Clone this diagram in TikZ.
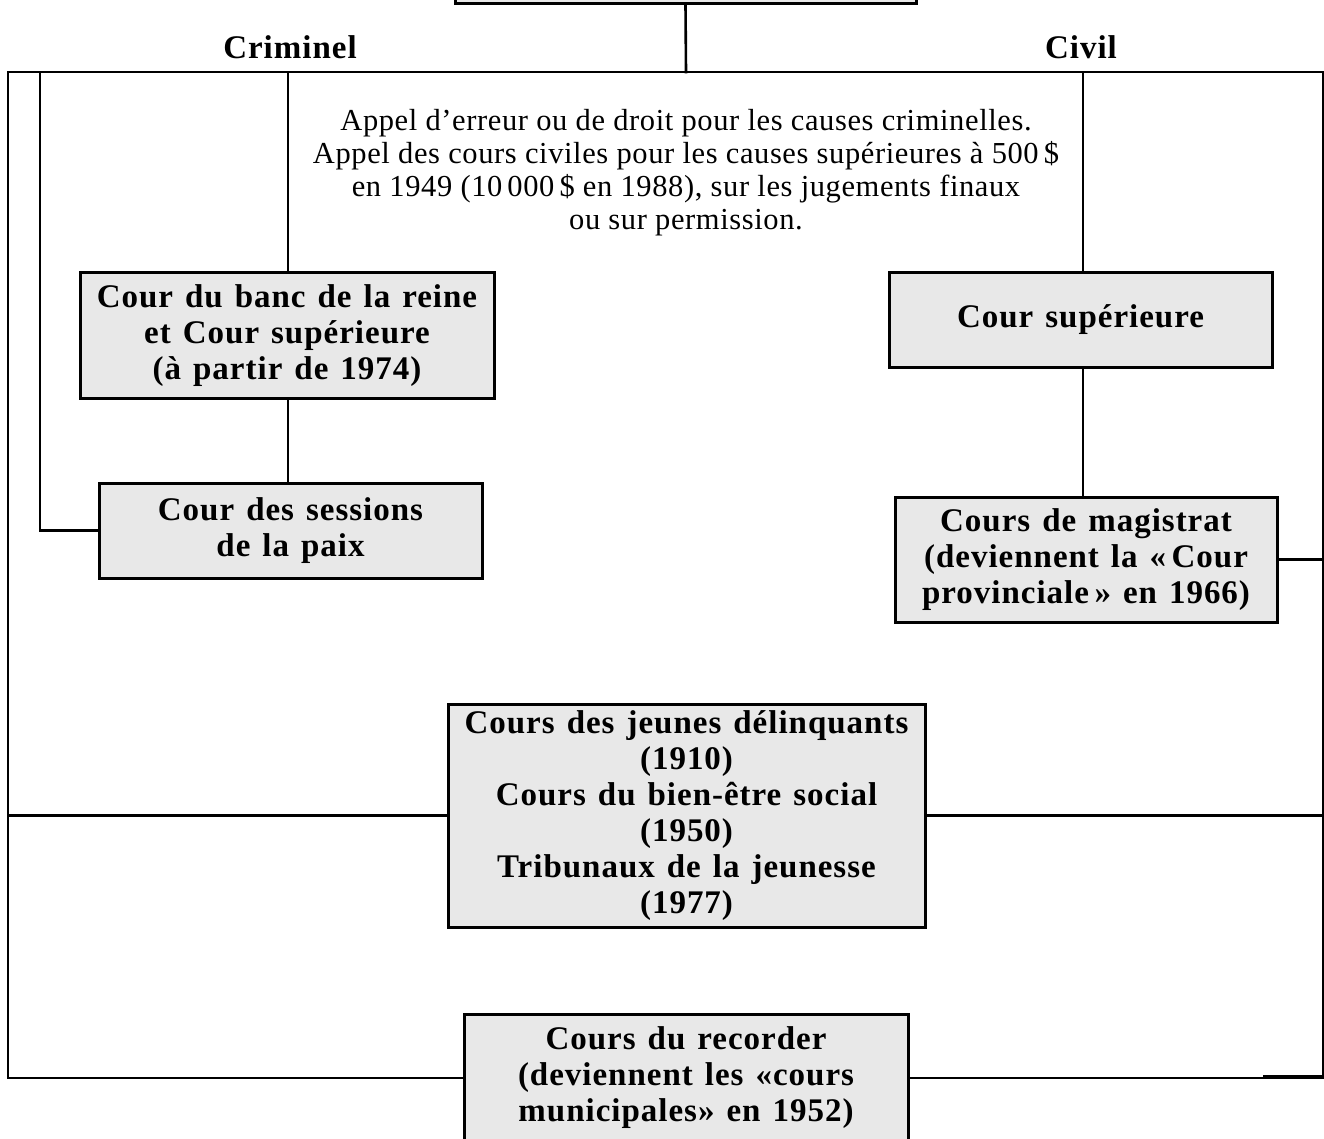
\documentclass[tikz,border=0pt]{standalone}
\usepackage{fontspec}
\setmainfont{Liberation Serif}
\newfontfamily\boxfont{Liberation Serif}[LetterSpace=3, WordSpace=1.3]
\newfontfamily\notefont{Liberation Serif}[LetterSpace=2]
\definecolor{boxgray}{HTML}{E8E8E8}
\tikzset{
  court/.style={draw=black, line width=3pt, fill=boxgray, rectangle, inner sep=0pt, align=center,
    font=\boxfont\bfseries\fontsize{33}{36}\selectfont},
  branch/.style={font=\boxfont\bfseries\fontsize{33}{36}\selectfont, inner sep=0pt},
  link/.style={draw=black, line width=2.6pt, line cap=rect},
  note/.style={align=center, inner sep=0pt, font=\notefont\fontsize{30.5}{33}\selectfont}
}
\begin{document}
\begin{tikzpicture}[x=1pt,y=-1pt]
\useasboundingbox (0,0) rectangle (1324,1139);
\clip (0,0) rectangle (1324,1139);
\fill[white] (0,0) rectangle (1324,1139);

% nodes
\node[court, minimum width=461pt, minimum height=64pt] (top) at (685.5,-28) {};
\node[branch] (crim) at (290,47) {Criminel};
\node[branch] (civ) at (1081,47) {Civil};
\node[note] (appel) at (686,173) {Appel d’erreur ou de droit pour les causes criminelles.\\
Appel des cours civiles pour les causes supérieures à 500\,\$\\
en 1949 (10\,000\,\$ en 1988), sur les jugements finaux\\
ou sur permission.};

\node[court, minimum width=414pt, minimum height=125pt] (banc) at (287,335.5)
  {Cour du banc de la reine\\ et Cour supérieure\\ (à partir de 1974)};
\node[court, minimum width=383pt, minimum height=95pt] (sess) at (290.5,530.5)
  {Cour des sessions\\ de la paix};
\node[court, minimum width=383pt, minimum height=94pt] (sup) at (1080.5,320)
  {Cour supérieure};
\node[court, minimum width=382pt, minimum height=125pt] (mag) at (1086,559.5)
  {Cours de magistrat\\ (deviennent la «\,Cour\\ provinciale\,» en 1966)};
\node[court, minimum width=477pt, minimum height=223pt] (jeun) at (686.5,815.5)
  {Cours des jeunes délinquants\\ (1910)\\ Cours du bien-être social\\ (1950)\\ Tribunaux de la jeunesse\\ (1977)};
\node[court, minimum width=444pt, minimum height=128pt] (rec) at (686,1078)
  {Cours du recorder\\ (deviennent les «cours\\ municipales» en 1952)};

% frame coordinates
\coordinate (hub) at (686,72);
\coordinate (tl) at (8,72);
\coordinate (tr) at (1323,72);
\coordinate (bl) at (8,1077);
\coordinate (br) at (1323,1077);
\coordinate (c40) at (40,72);
\coordinate (c288) at (288,72);
\coordinate (c1083) at (1083,72);
\coordinate (brk) at (1265,1077);

\draw[link] (top.south) -- (hub);
\draw[link] (bl) -- (tl) -- (tr) -- (br);
\draw[link] (c40) |- (sess.west);
\draw[link] (c288) -- (c288 |- banc.north);
\draw[link] (c288 |- banc.south) -- (c288 |- sess.north);
\draw[link] (c1083) -- (c1083 |- sup.north);
\draw[link] (c1083 |- sup.south) -- (c1083 |- mag.north);
\draw[link] (mag.east) -- (mag.east -| tr);
\draw[link] (jeun.west) -- (jeun.west -| tl);
\draw[link] (jeun.east) -- (jeun.east -| tr);
\draw[link] (rec.west) -- (rec.west -| bl);
\draw[link] (rec.east) -- (rec.east -| br);
\draw[link, line width=3.6pt] (brk) -- (br);
\end{tikzpicture}
\end{document}
